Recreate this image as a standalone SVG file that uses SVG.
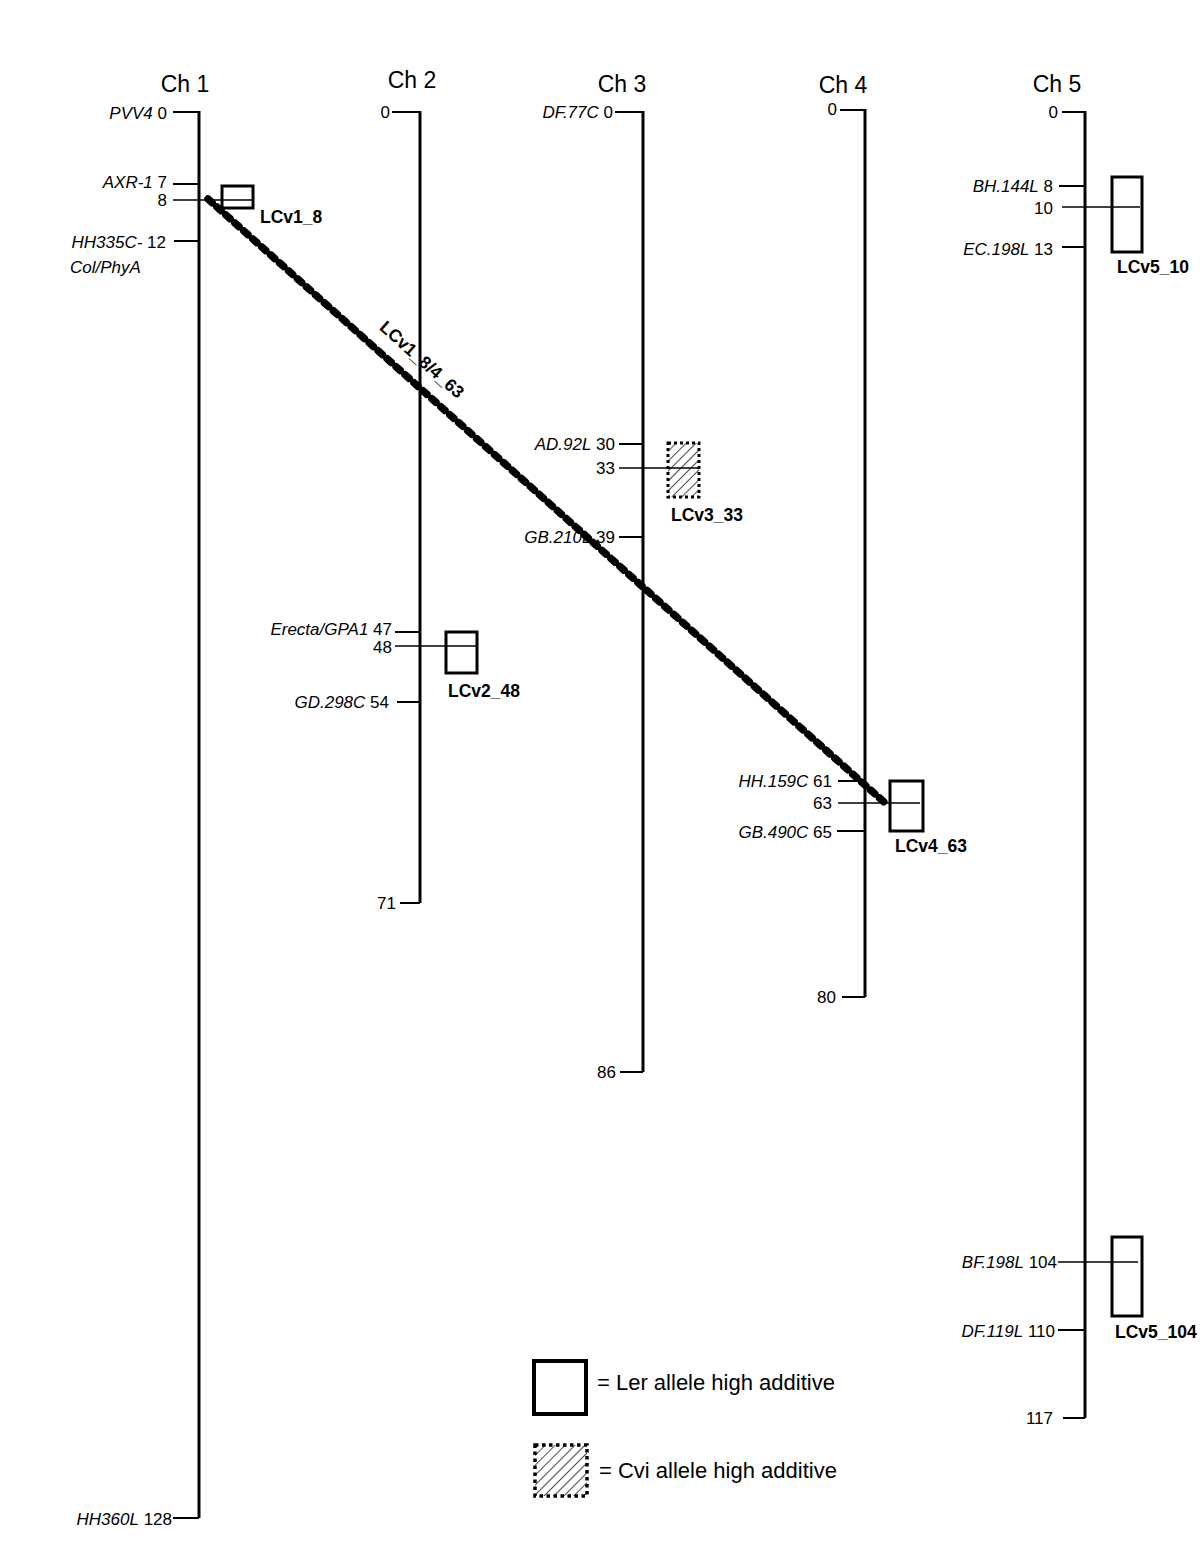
<svg xmlns="http://www.w3.org/2000/svg" width="1200" height="1553" viewBox="0 0 1200 1553">
<style>
text{font-family:"Liberation Sans",Arial,sans-serif;fill:#000}
.t{font-size:23px}
.m{font-size:17px;text-anchor:end}
.m tspan.i{font-style:italic}
.ml{font-size:17px;font-style:italic}
.q{font-size:17.5px;font-weight:bold}
.lg{font-size:22px}
.chr{stroke:#000;stroke-width:3;fill:none}
.tk{stroke:#000;stroke-width:2;fill:none}
.thin{stroke:#000;stroke-width:1.3;fill:none}
.box{stroke:#000;stroke-width:3;fill:none}
.hbox{stroke:#000;stroke-width:3;stroke-dasharray:3 3;fill:url(#hatch)}
</style>
<defs>
<pattern id="hatch" patternUnits="userSpaceOnUse" width="7" height="7" patternTransform="rotate(45)">
<rect width="7" height="7" fill="#fff"/>
<line x1="0" y1="0" x2="0" y2="7" stroke="#000" stroke-width="1.4"/>
</pattern>
</defs>

<g id="ch1">
<text class="t" x="185" y="92" text-anchor="middle">Ch 1</text>
<line class="chr" x1="199" y1="111" x2="199" y2="1518"/>
<line class="tk" x1="173" y1="112" x2="199" y2="112"/>
<line class="tk" x1="173" y1="184" x2="199" y2="184"/>
<line class="thin" x1="173" y1="200" x2="253" y2="200"/>
<line class="tk" x1="174" y1="241" x2="199" y2="241"/>
<line class="tk" x1="173" y1="1518" x2="199" y2="1518"/>
<text class="m" x="167" y="119"><tspan class="i">PVV4</tspan> 0</text>
<text class="m" x="167" y="188"><tspan class="i">AXR-1</tspan>  7</text>
<text class="m" x="167" y="206">8</text>
<text class="m" x="166" y="248"><tspan class="i">HH335C-</tspan> 12</text>
<text class="ml" x="70" y="273">Col/PhyA</text>
<text class="m" x="172" y="1525"><tspan class="i">HH360L</tspan> 128</text>
</g>
<g id="LCv1_8">
<rect class="box" x="222" y="186" width="31" height="22"/>
<text class="q" x="260" y="223">LCv1_8</text>
</g>

<g id="ch2">
<text class="t" x="412" y="88" text-anchor="middle">Ch 2</text>
<line class="chr" x1="420" y1="111" x2="420" y2="903"/>
<line class="tk" x1="392" y1="112" x2="420" y2="112"/>
<line class="tk" x1="395" y1="632" x2="420" y2="632"/>
<line class="thin" x1="395" y1="646" x2="477" y2="646"/>
<line class="tk" x1="397" y1="702" x2="420" y2="702"/>
<line class="tk" x1="400" y1="903" x2="420" y2="903"/>
<text class="m" x="390" y="118">0</text>
<text class="m" x="392" y="635"><tspan class="i">Erecta/GPA1</tspan> 47</text>
<text class="m" x="392" y="653">48</text>
<text class="m" x="389" y="708"><tspan class="i">GD.298C</tspan> 54</text>
<text class="m" x="396" y="909">71</text>
</g>
<g id="LCv2_48">
<rect class="box" x="446" y="632" width="31" height="41"/>
<text class="q" x="448" y="697">LCv2_48</text>
</g>

<g id="ch3">
<text class="t" x="622" y="92" text-anchor="middle">Ch 3</text>
<line class="chr" x1="643" y1="111" x2="643" y2="1072"/>
<line class="tk" x1="615" y1="112" x2="643" y2="112"/>
<line class="tk" x1="619" y1="444" x2="643" y2="444"/>
<line class="tk" x1="619" y1="537" x2="643" y2="537"/>
<line class="tk" x1="620" y1="1072" x2="643" y2="1072"/>
<text class="m" x="613" y="118"><tspan class="i">DF.77C</tspan> 0</text>
<text class="m" x="615" y="450"><tspan class="i">AD.92L</tspan>  30</text>
<text class="m" x="615" y="474">33</text>
<text class="m" x="615" y="543"><tspan class="i">GB.210L</tspan> 39</text>
<text class="m" x="616" y="1078">86</text>
</g>
<g id="LCv3_33">
<rect class="hbox" x="668" y="443" width="31" height="54"/>
<line class="thin" x1="619" y1="468" x2="700" y2="468"/>
<text class="q" x="671" y="521">LCv3_33</text>
</g>

<g id="ch4">
<text class="t" x="843" y="93" text-anchor="middle">Ch 4</text>
<line class="chr" x1="865" y1="109" x2="865" y2="997"/>
<line class="tk" x1="840" y1="110" x2="865" y2="110"/>
<line class="tk" x1="838" y1="781" x2="865" y2="781"/>
<line class="thin" x1="838" y1="803" x2="920" y2="803"/>
<line class="tk" x1="837" y1="831" x2="865" y2="831"/>
<line class="tk" x1="842" y1="997" x2="865" y2="997"/>
<text class="m" x="837" y="115">0</text>
<text class="m" x="832" y="787"><tspan class="i">HH.159C</tspan>  61</text>
<text class="m" x="832" y="809">63</text>
<text class="m" x="832" y="838"><tspan class="i">GB.490C</tspan> 65</text>
<text class="m" x="836" y="1003">80</text>
</g>
<g id="LCv4_63">
<rect class="box" x="890" y="781" width="33" height="50"/>
<text class="q" x="895" y="852">LCv4_63</text>
</g>

<g id="ch5">
<text class="t" x="1057" y="92" text-anchor="middle">Ch 5</text>
<line class="chr" x1="1085" y1="111" x2="1085" y2="1418"/>
<line class="tk" x1="1062" y1="112" x2="1085" y2="112"/>
<line class="tk" x1="1059" y1="186" x2="1085" y2="186"/>
<line class="thin" x1="1062" y1="207" x2="1140" y2="207"/>
<line class="tk" x1="1062" y1="247" x2="1085" y2="247"/>
<line class="thin" x1="1058" y1="1262" x2="1138" y2="1262"/>
<line class="tk" x1="1058" y1="1330" x2="1085" y2="1330"/>
<line class="tk" x1="1063" y1="1418" x2="1085" y2="1418"/>
<text class="m" x="1058" y="118">0</text>
<text class="m" x="1053" y="192"><tspan class="i">BH.144L</tspan> 8</text>
<text class="m" x="1053" y="214">10</text>
<text class="m" x="1053" y="255"><tspan class="i">EC.198L</tspan>  13</text>
<text class="m" x="1057" y="1268"><tspan class="i">BF.198L</tspan> 104</text>
<text class="m" x="1055" y="1337"><tspan class="i">DF.119L</tspan> 110</text>
<text class="m" x="1053" y="1424">117</text>
</g>
<g id="LCv5_10">
<rect class="box" x="1112" y="177" width="30" height="75"/>
<text class="q" x="1117" y="273">LCv5_10</text>
</g>
<g id="LCv5_104">
<rect class="box" x="1112" y="1237" width="30" height="79"/>
<text class="q" x="1115" y="1338">LCv5_104</text>
</g>

<g id="connectors">
<line x1="208" y1="199" x2="884" y2="802" stroke="#000" stroke-width="7.5" stroke-linecap="round" stroke-dasharray="5.5 6.5"/>
<text class="q" x="418" y="364" text-anchor="middle" transform="rotate(41.7 418 364)">LCv1_8/4_63</text>
</g>

<g id="legend">
<rect x="534" y="1361" width="52" height="53" fill="none" stroke="#000" stroke-width="4"/>
<text class="lg" x="597" y="1390">= Ler allele high additive</text>
<rect x="535" y="1445" width="52" height="51" fill="url(#hatch)" stroke="#000" stroke-width="3.5" stroke-dasharray="3.5 3.5"/>
<text class="lg" x="599" y="1478">= Cvi allele high additive</text>
</g>
</svg>
